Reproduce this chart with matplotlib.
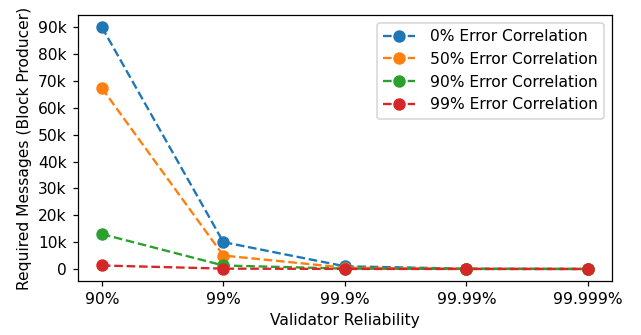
import matplotlib
matplotlib.use("Agg")
import matplotlib.pyplot as plt
from matplotlib.ticker import FuncFormatter

reliability = ["90%", "99%", "99.9%", "99.99%", "99.999%"]
corr_labels = ["0% Error Correlation", "50% Error Correlation",
               "90% Error Correlation", "99% Error Correlation"]
msgs_0 = [90000, 10000, 1000, 100, 10]
msgs_50 = [67300, 5000, 500, 50, 5]
msgs_90 = [13000, 1300, 130, 13, 1]
msgs_99 = [1300, 130, 13, 1, 0]
series = [msgs_0, msgs_50, msgs_90, msgs_99]


def kfmt(v, pos):
    if v == 0:
        return "0"
    return "%dk" % int(round(v / 1000))


DPI = 112
fig, ax = plt.subplots(figsize=(641 / DPI, 335 / DPI), dpi=DPI)
x = list(range(len(reliability)))
for vals, lab in zip(series, corr_labels):
    ax.plot(x, vals, "--o", label=lab, markersize=7)

ax.set_xticks(x)
ax.set_xticklabels(reliability)
ax.set_yticks(range(0, 90001, 10000))
ax.yaxis.set_major_formatter(FuncFormatter(kfmt))
ax.set_xlabel("Validator Reliability")
ax.set_ylabel("Required Messages (Block Producer)")
ax.legend(loc="upper right", handletextpad=1.0)
fig.subplots_adjust(left=0.121, right=0.955, top=0.955, bottom=0.161)
fig.savefig("out.png", dpi=DPI)
